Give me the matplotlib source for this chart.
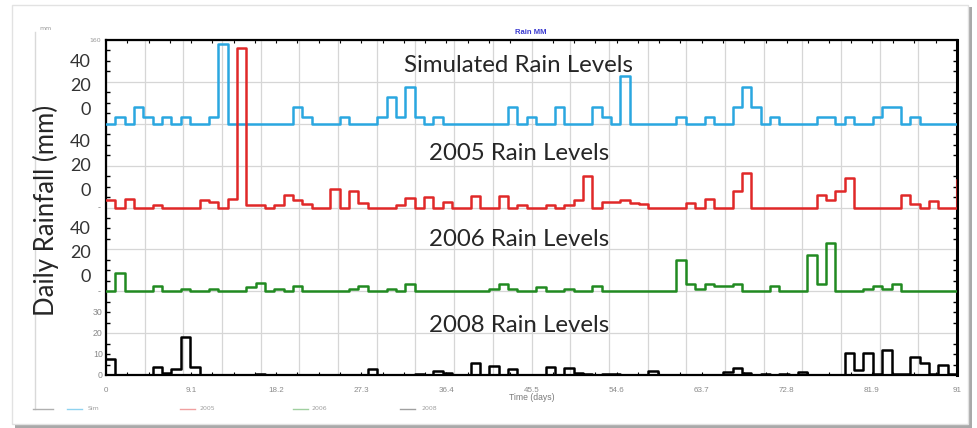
import numpy as np
import matplotlib.pyplot as plt
from matplotlib.patches import Rectangle
from matplotlib.lines import Line2D

W, H = 977, 428

# daily rainfall (mm), day 0..90, plus the value drawn at day 91
sim = [0, 3, 0, 8, 3, 0, 3, 0, 3, 0, 0, 3, 38, 0, 0, 0, 0, 0, 0, 0,
       8, 3, 0, 0, 0, 3, 0, 0, 0, 3, 13, 3, 17.5, 3, 0, 3, 0, 0, 0, 0,
       0, 0, 0, 8, 0, 3, 0, 0, 8, 0, 0, 0, 8, 3, 0, 23, 0, 0, 0, 0,
       0, 3, 0, 0, 3, 0, 0, 8, 17.5, 8, 0, 3, 0, 0, 0, 0, 3, 3, 0, 3,
       0, 0, 3, 8, 8, 0, 3, 0, 0, 0, 0, 0]
rain2005 = [3.5, 0, 4, 0, 0, 1, 0, 0, 0, 0, 3.5, 2.4, 0, 4, 76, 1, 1, 0, 1, 6,
            3.5, 1.5, 0, 0, 9, 0, 8, 2, 0, 0, 0, 1, 4.5, 0, 5, 0, 2.5, 0, 0, 5.5,
            0, 0, 5.5, 0, 1, 0, 0, 1, 0, 1, 3.5, 15, 0, 2.5, 2.5, 3.5, 2, 1.5, 0, 0,
            0, 0, 2, 0, 4, 0, 0, 8, 16.5, 0, 0, 0, 0, 0, 0, 0, 6, 3.5, 8, 14,
            0, 0, 0, 0, 0, 6, 1.5, 0, 3, 0, 0, 13]
rain2006 = [0, 8.5, 0, 0, 0, 2.5, 0, 0, 1, 0, 0, 1, 0, 0, 0, 2, 4, 0, 1, 0,
            2.5, 0, 0, 0, 0, 0, 1, 2.5, 0, 0, 1, 0, 3.7, 0, 0, 0, 0, 0, 0, 0,
            0, 1.3, 3.7, 1.3, 0, 0, 2, 0, 0, 1.3, 0, 0, 2.4, 0, 0, 0, 0, 0, 0, 0,
            0, 15, 3.7, 1.3, 3.7, 2.5, 2.5, 3.7, 0, 0, 0, 2.5, 0, 0, 0, 17.5, 3.7, 23, 0, 0,
            0, 1, 2.5, 1, 3.3, 0, 0, 0, 0, 0, 0, 0]
rain2008 = [7.5, 0, 0, 0, 0, 3.7, 1, 2.7, 18, 3.7, 0, 0, 0, 0, 0, 0, 0.5, 0, 0, 0,
            0, 0, 0, 0, 0, 0, 0, 0, 2.7, 0, 0, 0, 0, 0.5, 0, 2, 1, 0, 0, 5.5,
            0, 4.5, 0, 3, 0, 0, 0, 3.7, 0, 3.3, 1, 0.5, 0, 0.5, 0.5, 0, 0, 0, 2, 0,
            0, 0, 0, 0, 0, 0, 1.5, 3.3, 1, 0, 0.5, 0, 0.5, 0, 1.5, 0, 0, 0, 0, 10.7,
            2.3, 10.7, 0.3, 12, 0.7, 0.7, 8.5, 5.6, 0.7, 4.6, 0.5, 0.5]

names = ["Sim", "2005", "2006", "2008"]
titles = ["Simulated Rain Levels", "2005 Rain Levels", "2006 Rain Levels", "2008 Rain Levels"]
colors = ["#2aa7e0", "#e02828", "#218a21", "#000000"]
offsets = [120, 80, 40, 0]
xtick_vals = [0, 9.1, 18.2, 27.3, 36.4, 45.5, 54.6, 63.7, 72.8, 81.9, 91]
xtick_labels = ["0", "9.1", "18.2", "27.3", "36.4", "45.5", "54.6", "63.7", "72.8", "81.9", "91"]


def fx(x):
    return x / W


def fy(y):
    return 1 - y / H


fig = plt.figure(figsize=(W / 100, H / 100), dpi=100)
fig.patch.set_facecolor("white")

# card with shadow
fig.patches.append(Rectangle((fx(15), fy(428)), fx(957), 421 / H, transform=fig.transFigure,
                             facecolor="#a9a9a9", edgecolor="none", zorder=-3))
fig.patches.append(Rectangle((fx(12), fy(424)), fx(956), 419 / H, transform=fig.transFigure,
                             facecolor="white", edgecolor="#e2e2e2", lw=1, zorder=-2))
fig.lines.append(Line2D([fx(35), fx(35)], [fy(32), fy(409)], transform=fig.transFigure,
                        color="#d9d9d9", lw=1, zorder=-1))

ax = fig.add_axes([fx(106), fy(375), fx(957) - fx(106), (375 - 40) / H])
ax.set_xlim(0, 91)
ax.set_ylim(0, 160)

days = np.arange(92)
series = [sim, rain2005, rain2006, rain2008]
for vals, off, c in zip(series, offsets, colors):
    ax.step(days, np.array(vals) + off, where="post", color=c, lw=1.8, zorder=3)

ax.set_xticks(np.linspace(0, 91, 23), minor=False)
ax.set_xticklabels([])
ax.grid(True, color="#d6d6d6", lw=0.9)
ax.set_yticks(np.arange(0, 161, 20))
ax.tick_params(axis="both", which="major", length=0, labelleft=False, labelbottom=False)
ax.set_xticks(np.arange(0, 91.01, 2.275), minor=True)
ax.set_yticks(np.arange(0, 161, 5), minor=True)
ax.tick_params(axis="x", which="minor", direction="in", length=2.5, width=0.8, top=True, bottom=True)
ax.tick_params(axis="y", which="minor", direction="in", length=3, width=1.0, left=True, right=True, color="black")
for t in ax.yaxis.get_minor_ticks():
    t.tick1line.set_color("#3a9a3a")
for s in ax.spines.values():
    s.set_linewidth(1.6)
ax.spines["right"].set_linewidth(2.2)

# small original axis labels
for v, lab in zip(xtick_vals, xtick_labels):
    ax.text(v, -7.5, lab, ha="center", va="center", fontsize=5.8, color="#8a8a8a",
            family="Liberation Sans")
for v in [0, 10, 20, 30]:
    ax.text(-0.35, v, str(v), ha="right", va="center", fontsize=6.3, color="#8a8a8a",
            family="Liberation Sans")
for v in [40, 80]:
    ax.text(-0.6, v, "-", ha="right", va="center", fontsize=6, color="#8a8a8a")
fig.text(fx(95), fy(40), "160", ha="center", va="center", fontsize=4.5, color="#999999")
fig.text(fx(46), fy(28), "mm", ha="center", va="center", fontsize=4.5, color="#999999")
fig.text(fx(531), fy(33), "Rain MM", ha="center", va="center", fontsize=5.5,
         color="#3b3bd0", fontweight="bold", family="Liberation Sans")
fig.text(fx(532), fy(398), "Time (days)", ha="center", va="center", fontsize=6.2,
         color="#7a7a7a", family="Liberation Sans")

# legend row
leg_lines = [(33, 53, "#b0b0b0"), (67, 82, "#8fd3f0"), (180, 195, "#f0a0a0"),
             (293, 308, "#a0d0a0"), (400, 415, "#a0a0a0")]
for x0, x1, c in leg_lines:
    fig.lines.append(Line2D([fx(x0), fx(x1)], [fy(409), fy(409)], transform=fig.transFigure,
                            color=c, lw=1))
for x, lab in zip([88, 200, 312, 422], names):
    fig.text(fx(x), fy(409), lab, ha="left", va="center", fontsize=4.5, color="#a0a0a0")

# pasted-on labels
for y0, y1, y2 in [(62, 86, 110), (142, 166, 191), (229, 253, 277)]:
    for y, lab in zip([y0, y1, y2], ["40", "20", "0"]):
        fig.text(fx(91), fy(y), lab, ha="right", va="center", fontsize=13,
                 color="#333333", family="Lato")
for y, t in zip([65, 154, 239, 326], titles):
    fig.text(fx(519), fy(y), t, ha="center", va="center", fontsize=17.3,
             color="#262626", family="Lato")
fig.text(fx(46), fy(210), "Daily Rainfall (mm)", ha="center", va="center", fontsize=18.5,
         rotation=90, color="#262626", family="Lato")

fig.savefig("out.png", dpi=100)
